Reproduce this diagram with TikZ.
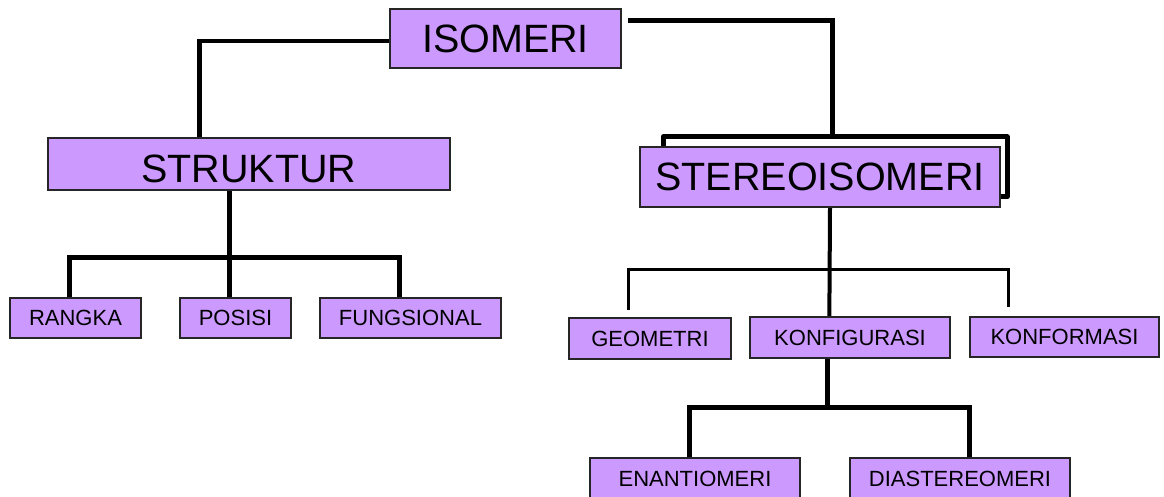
\documentclass[tikz,border=0pt]{standalone}
\usepackage{fontspec}
\setmainfont{Liberation Sans}
\pgfdeclarelayer{bg}
\pgfsetlayers{bg,main}
\definecolor{boxfill}{RGB}{204,153,255}
\tikzset{
  box/.style={draw=black!85, line width=1.3pt, fill=boxfill, inner sep=0pt, rectangle, text=black},
  bigbox/.style={box, font=\fontsize{39.5}{40}\selectfont},
  smallbox/.style={box, font=\fontsize{22}{23}\selectfont},
  conn/.style={draw=black, line width=5pt},
  thinconn/.style={draw=black, line width=3.5pt},
}
\begin{document}
\begin{tikzpicture}[x=1pt,y=-1pt]
\useasboundingbox (0,0) rectangle (1164,497);
% main boxes
\node[bigbox, minimum width=231pt, minimum height=59pt] (iso) at (505.5,38.5) {ISOMERI};
\node[bigbox, minimum width=402pt, minimum height=52pt] (struk) at (249,164) {\raisebox{-5pt}[\height][\depth]{STRUKTUR}};
\node[bigbox, minimum width=360pt, minimum height=60pt] (stereo) at (820,177) {STEREOISOMERI};
% structure children
\node[smallbox, minimum width=131pt, minimum height=40pt] (rangka) at (75.5,318) {RANGKA};
\node[smallbox, minimum width=111pt, minimum height=40pt] (posisi) at (235.5,318) {POSISI};
\node[smallbox, minimum width=181pt, minimum height=40pt] (fungs) at (410.5,318) {FUNGSIONAL};
% stereo children
\node[smallbox, minimum width=162pt, minimum height=41pt] (geo) at (650,338.5) {GEOMETRI};
\node[smallbox, minimum width=200pt, minimum height=41pt] (konfig) at (850,337.5) {KONFIGURASI};
\node[smallbox, minimum width=189pt, minimum height=40pt] (konform) at (1064.5,337) {KONFORMASI};
% configuration children
\node[smallbox, minimum width=210pt, minimum height=41pt] (enan) at (695,478.5) {ENANTIOMERI};
\node[smallbox, minimum width=220pt, minimum height=41pt] (dia) at (960,478.5) {DIASTEREOMERI};
% bracket coordinates around STEREOISOMERI
\coordinate (brA) at (663,147);
\coordinate (brB) at (663,137);
\coordinate (brC) at (1007,137);
\coordinate (brD) at (1007,197);
\coordinate (brE) at (1000,197);
\coordinate (isoR) at (832,137);
\begin{pgfonlayer}{bg}
\draw[conn, line width=4.5pt] ([yshift=-2.5pt]iso.west) -| ([xshift=152pt]struk.north west);
\draw[conn] ([xshift=6pt,yshift=17.5pt]iso.east) -| (isoR);
\draw[conn, line join=round] (brA) -- (brB) -- (brC) -- (brD) -- (brE);
% STRUKTUR tree
\draw[conn] ([xshift=182pt]struk.south west) -- ([xshift=50pt]posisi.north west);
\draw[conn] ([xshift=60pt]rangka.north west) -- ++(0,-40) -| ([xshift=80pt]fungs.north west);
% STEREOISOMERI tree
\draw[conn, line width=4pt] ([xshift=10pt]stereo.south) -- ([xshift=80pt]konfig.north west);
\draw[thinconn] ([xshift=60pt,yshift=7pt]geo.north west) -- ++(0,-41) -| ([xshift=39pt,yshift=9pt]konform.north west);
% KONFIGURASI tree
\draw[conn] ([xshift=78pt]konfig.south west) -- ++(0,50);
\draw[conn] ([xshift=100pt]enan.north west) -- ++(0,-50) -| ([xshift=120pt]dia.north west);
\end{pgfonlayer}
\end{tikzpicture}
\end{document}
